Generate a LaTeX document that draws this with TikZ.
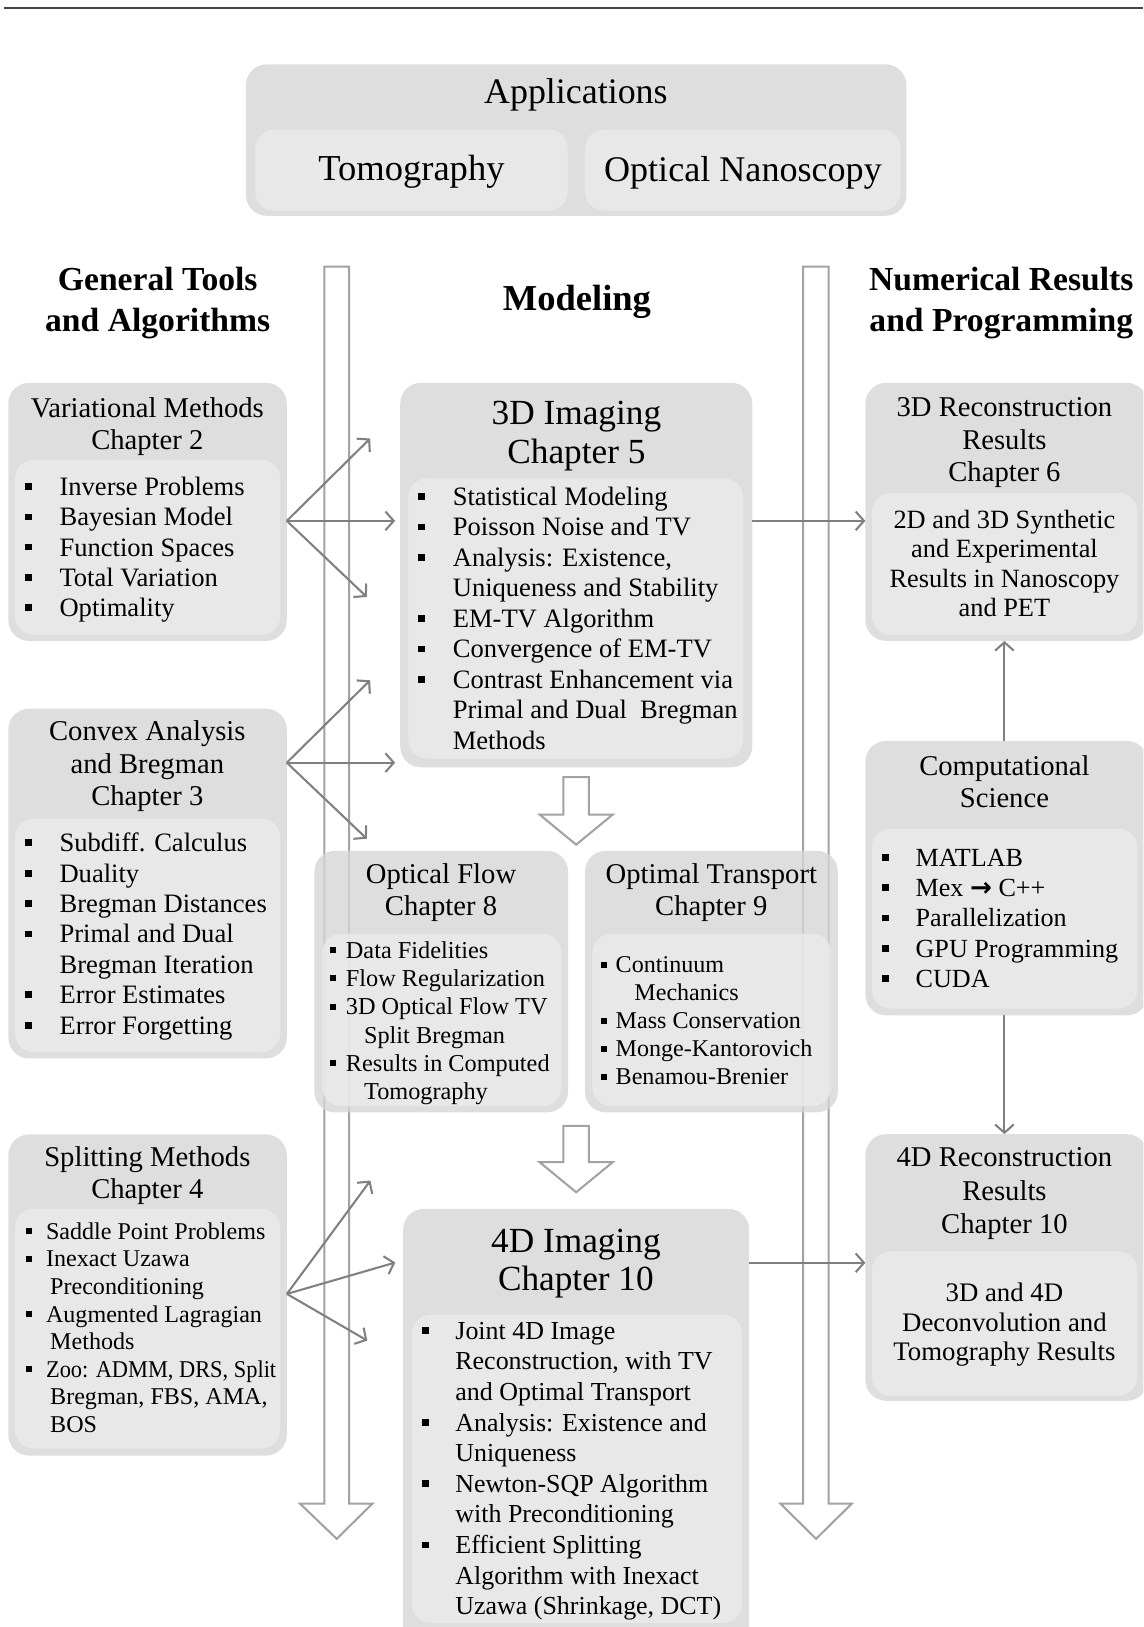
\documentclass[tikz,border=0pt]{standalone}
\usepackage{fontspec}
\setmainfont{Liberation Serif}
\newfontfamily\arrfont{DejaVu Sans}
\usetikzlibrary{arrows.meta}
\definecolor{cOut}{RGB}{214,214,214}
\definecolor{cIn}{RGB}{235,235,235}
\definecolor{cArr}{RGB}{128,128,128}
\definecolor{cBig}{RGB}{162,162,162}
\definecolor{cRule}{RGB}{70,70,70}
\newcommand\bsq{\raisebox{0.21em}{\rule{0.25em}{0.25em}}}
\newcommand\itm[1]{\makebox[#1][l]{\bsq}}
\newcommand\bx[6]{\node[#1, anchor=north west, minimum width={(#5-#3)*0.5pt}, minimum height={(#6-#4)*0.5pt}] (#2) at (#3,#4) {};}
\begin{document}
\begin{tikzpicture}[x=0.5pt,y=-0.5pt,
  outer/.style={fill=cOut, fill opacity=0.8, rounded corners=10pt, inner sep=0pt, outer sep=0pt},
  inner/.style={fill=cIn, fill opacity=0.8, rounded corners=9pt, inner sep=0pt, outer sep=0pt},
  ttl/.style={align=center, inner sep=0pt, anchor=mid, font=\fontsize{13.8}{15.7}\selectfont},
  bigttl/.style={align=center, inner sep=0pt, anchor=mid, font=\fontsize{17}{19.2}\selectfont},
  hdr/.style={align=center, inner sep=0pt, anchor=mid, font=\fontsize{16.2}{20}\selectfont\bfseries},
  lst/.style={align=left, inner sep=0pt, anchor=mid west},
  ctr/.style={align=center, inner sep=0pt, anchor=mid},
  arr/.style={draw=cArr, line width=1pt, -{Straight Barb[length=4pt,width=9pt]}},
  hollow/.style={draw=cBig, line width=1pt, line join=miter}
]
\useasboundingbox (0,0) rectangle (1102,1568);
\clip (0,0) rectangle (1102,1568);

% top rule
\draw[cRule, line width=1pt] (4,8) -- (1102,8);

% big hollow arrows
\draw[hollow] (312.6,257) -- (336.5,257) -- (336.5,1449) -- (359,1449) -- (324.5,1483) -- (289,1449) -- (312.6,1449) -- cycle;
\draw[hollow] (774,257) -- (798.5,257) -- (798.5,1449) -- (821,1449) -- (786.5,1483) -- (752,1449) -- (774,1449) -- cycle;
% small hollow arrows
\draw[hollow] (543,749) -- (567.5,749) -- (567.5,785) -- (590.5,785) -- (555.25,814) -- (520,785) -- (543,785) -- cycle;
\draw[hollow] (543,1085) -- (567.5,1085) -- (567.5,1120) -- (590.5,1120) -- (555.25,1149) -- (520,1120) -- (543,1120) -- cycle;

% Applications
\bx{outer}{app}{237}{62}{873.5}{208}
\bx{inner}{tomo}{246}{125}{547}{203}
\bx{inner}{nano}{564}{125}{868}{203}
\node[ctr, font=\fontsize{17.3}{20}\selectfont] (appt) at (555,95) {Applications};
\node[ctr, font=\fontsize{17.6}{20}\selectfont] (tomot) at (396.5,169) {Tomography};
\node[ctr, font=\fontsize{17.4}{20}\selectfont] (nanot) at (716,170) {Optical Nanoscopy};

% headers
\node[hdr] (h1) at (152,315) {General Tools\\and Algorithms};
\node[hdr, font=\fontsize{17.6}{20}\selectfont\bfseries] (h2) at (556,295) {Modeling};
\node[hdr] (h3) at (965,315) {Numerical Results\\and Programming};

% Variational Methods
\bx{outer}{vm}{8}{369}{276.4}{617.7}
\bx{inner}{vmi}{14.5}{443}{270}{612}
\node[ttl] (vmt) at (142,429) {Variational Methods\\Chapter 2};
\node[lst, font=\fontsize{12.8}{14.55}\selectfont] (vml) at (24,589.5) {\itm{16.5pt}Inverse Problems\\
\itm{16.5pt}Bayesian Model\\
\itm{16.5pt}Function Spaces\\
\itm{16.5pt}Total Variation\\
\itm{16.5pt}Optimality};

% Convex Analysis
\bx{outer}{ca}{8}{683}{276.4}{1020}
\bx{inner}{cai}{14.5}{789}{270}{1014}
\node[ttl] (cat) at (142,772) {Convex Analysis\\and Bregman\\Chapter 3};
\node[lst, font=\fontsize{12.8}{14.65}\selectfont] (cal) at (24,992) {\itm{16.5pt}Subdiff. Calculus\\
\itm{16.5pt}Duality\\
\itm{16.5pt}Bregman Distances\\
\itm{16.5pt}Primal and Dual\\
\hspace*{16.5pt}Bregman Iteration\\
\itm{16.5pt}Error Estimates\\
\itm{16.5pt}Error Forgetting};

% Splitting Methods
\bx{outer}{sm}{8}{1093.3}{276.4}{1402.8}
\bx{inner}{smi}{14.5}{1165}{270}{1396}
\node[ttl] (smt) at (142,1150.7) {Splitting Methods\\Chapter 4};
\node[lst, font=\fontsize{11.6}{13.3}\selectfont] (sml) at (25,1376) {\itm{9.5pt}Saddle Point Problems\\
\itm{9.5pt}Inexact Uzawa\\
\hspace*{11.5pt}Preconditioning\\
\itm{9.5pt}Augmented Lagragian\\
\hspace*{11.5pt}Methods\\
\itm{9.5pt}\scalebox{0.93}[1]{Zoo: ADMM, DRS, Split}\\
\hspace*{11.5pt}Bregman, FBS, AMA,\\
\hspace*{11.5pt}BOS};

% 3D Imaging
\bx{outer}{im3}{385.7}{369}{725}{739.5}
\bx{inner}{im3i}{393.5}{461}{716}{731}
\node[bigttl] (im3t) at (555.5,442.5) {3D Imaging\\Chapter 5};
\node[lst, font=\fontsize{12.8}{14.7}\selectfont] (im3l) at (402.4,717.5) {\itm{16.8pt}Statistical Modeling\\
\itm{16.8pt}Poisson Noise and TV\\
\itm{16.8pt}Analysis: Existence,\\
\hspace*{16.8pt}Uniqueness and Stability\\
\itm{16.8pt}EM-TV Algorithm\\
\itm{16.8pt}Convergence of EM-TV\\
\itm{16.8pt}Contrast Enhancement via\\
\hspace*{16.8pt}Primal and Dual\ \ Bregman\\
\hspace*{16.8pt}Methods};

% Optical Flow
\bx{outer}{of}{303}{820}{547.5}{1072}
\bx{inner}{ofi}{310.5}{900}{541}{1066}
\node[ttl, font=\fontsize{13.8}{15.5}\selectfont] (oft) at (425,878) {Optical Flow\\Chapter 8};
\node[lst, font=\fontsize{11.7}{13.6}\selectfont] (ofl) at (318,1055) {\itm{7.5pt}Data Fidelities\\
\itm{7.5pt}Flow Regularization\\
\itm{7.5pt}3D Optical Flow TV\\
\hspace*{16.25pt}Split Bregman\\
\itm{7.5pt}Results in Computed\\
\hspace*{16.25pt}Tomography};

% Optimal Transport
\bx{outer}{ot}{563.7}{820}{807.5}{1072}
\bx{inner}{oti}{571}{900}{801}{1066}
\node[ttl, font=\fontsize{13.8}{15.5}\selectfont] (ott) at (685.5,878) {Optimal Transport\\Chapter 9};
\node[lst, font=\fontsize{11.6}{13.5}\selectfont] (otl) at (578.5,1041) {\itm{7.25pt}Continuum\\
\hspace*{16.25pt}Mechanics\\
\itm{7.25pt}Mass Conservation\\
\itm{7.25pt}Monge-Kantorovich\\
\itm{7.25pt}Benamou-Brenier};

% 4D Imaging
\bx{outer}{im4}{388.5}{1165}{722}{1590}
\bx{inner}{im4i}{397}{1267}{715}{1564}
\node[bigttl, font=\fontsize{17}{18.4}\selectfont] (im4t) at (555,1239) {4D Imaging\\Chapter 10};
\node[lst, font=\fontsize{12.5}{14.75}\selectfont] (im4l) at (406.5,1551.5) {\itm{16pt}Joint 4D Image\\
\hspace*{16pt}Reconstruction, with TV\\
\hspace*{16pt}and Optimal Transport\\
\itm{16pt}Analysis: Existence and\\
\hspace*{16pt}Uniqueness\\
\itm{16pt}Newton-SQP Algorithm\\
\hspace*{16pt}with Preconditioning\\
\itm{16pt}Efficient Splitting\\
\hspace*{16pt}Algorithm with Inexact\\
\hspace*{16pt}Uzawa (Shrinkage, DCT)};

% 3D Reconstruction Results
\bx{outer}{r3}{834}{369}{1106}{617.7}
\bx{inner}{r3i}{840.4}{475}{1096}{612}
\node[ttl] (r3t) at (968,459.8) {3D Reconstruction\\Results\\Chapter 6};
\node[ctr, font=\fontsize{12.7}{14.25}\selectfont] (r3b) at (968,590) {2D and 3D Synthetic\\and Experimental\\Results in Nanoscopy\\and PET};

% Computational Science
\bx{outer}{cs}{834}{714}{1106}{978.6}
\bx{inner}{csi}{840.4}{798.5}{1096}{972}
\node[ttl, font=\fontsize{13.8}{15.5}\selectfont] (cst) at (968,773.7) {Computational\\Science};
\node[lst, font=\fontsize{12.6}{14.6}\selectfont] (csl) at (850,947) {\itm{16pt}MATLAB\\
\itm{16pt}Mex {\arrfont\bfseries →} C++\\
\itm{16pt}Parallelization\\
\itm{16pt}GPU Programming\\
\itm{16pt}CUDA};

% 4D Reconstruction Results
\bx{outer}{r4}{834}{1093}{1106}{1350}
\bx{inner}{r4i}{840.4}{1206}{1096}{1345}
\node[ttl, font=\fontsize{13.8}{16}\selectfont] (r4t) at (968,1184) {4D Reconstruction\\Results\\Chapter 10};
\node[ctr, font=\fontsize{12.9}{14.35}\selectfont] (r4b) at (968,1307) {3D and 4D\\Deconvolution and\\Tomography Results};

% connectors
\coordinate (vmo) at (276.4,502);
\coordinate (vma) at (356.7,422.6);
\coordinate (vmb) at (380.8,502);
\coordinate (vmc) at (353.5,575.3);
\draw[arr] (vmo) -- (vma);
\draw[arr] (vmo) -- (vmb);
\draw[arr] (vmo) -- (vmc);
\coordinate (cao) at (276.4,735);
\coordinate (caa) at (356.7,655.6);
\coordinate (cab) at (380.8,735);
\coordinate (cac) at (353.5,808.3);
\draw[arr] (cao) -- (caa);
\draw[arr] (cao) -- (cab);
\draw[arr] (cao) -- (cac);
\coordinate (smo) at (276.5,1247);
\coordinate (sma) at (357,1137.7);
\coordinate (smb) at (381,1216.7);
\coordinate (smc) at (354,1292);
\draw[arr] (smo) -- (sma);
\draw[arr] (smo) -- (smb);
\draw[arr] (smo) -- (smc);
\coordinate (y3) at (0,502);
\coordinate (y4) at (0,1217);
\draw[arr] (im3.east |- y3) -- (r3.west |- y3);
\draw[arr] (im4.east |- y4) -- (r4.west |- y4);
\draw[arr] (cs.north -| 968,0) -- (r3.south -| 968,0);
\draw[arr] (cs.south -| 968,0) -- (r4.north -| 968,0);
\end{tikzpicture}
\end{document}
